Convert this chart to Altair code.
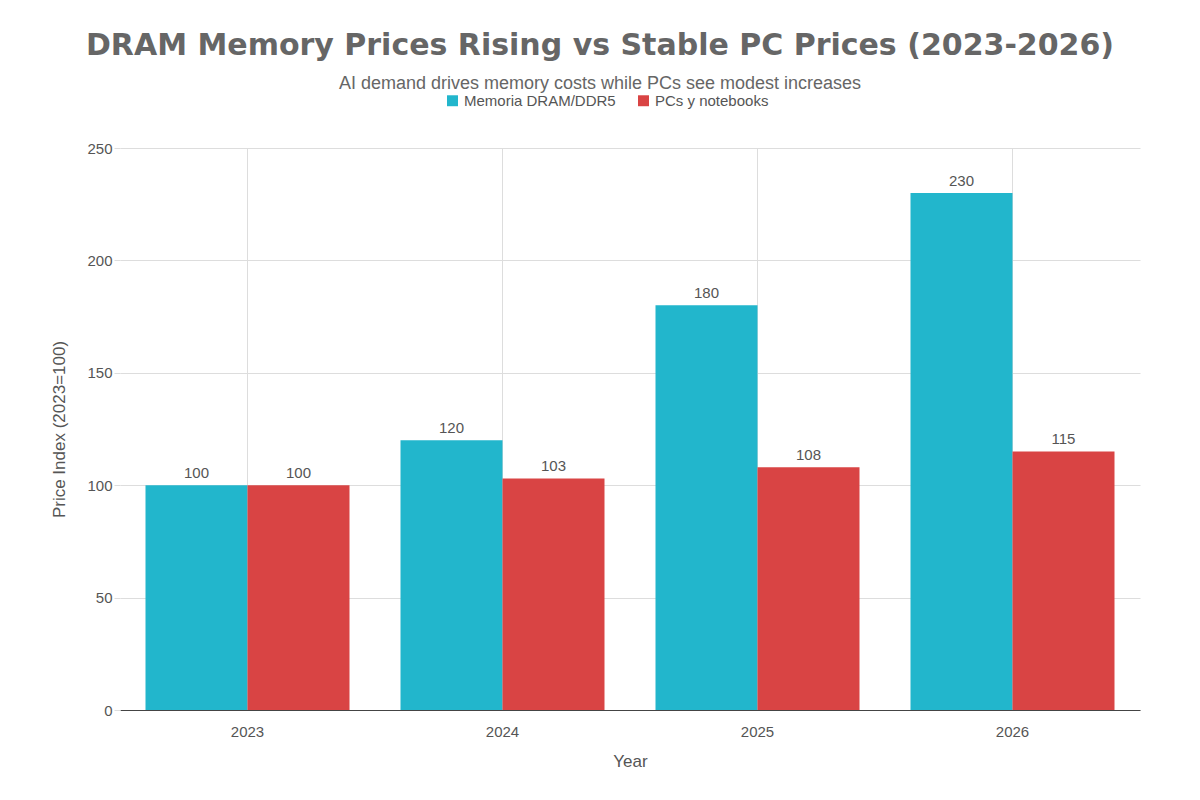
import altair as alt
import pandas as pd

years = ["2023", "2024", "2025", "2026"]
dram = [100, 120, 180, 230]
pcs = [100, 103, 108, 115]
series = ["Memoria DRAM/DDR5", "PCs y notebooks"]

rows = []
for i, y in enumerate(years):
    rows.append({"Year": y, "Serie": series[0], "v": dram[i]})
    rows.append({"Year": y, "Serie": series[1], "v": pcs[i]})
df = pd.DataFrame(rows)

F = "Liberation Sans"
base = alt.Chart(df).encode(
    x=alt.X("Year:N", title="Year", sort=years,
            scale=alt.Scale(paddingInner=0.2, paddingOuter=0.1),
            axis=alt.Axis(labelAngle=0, grid=True, gridColor="#dddddd", domainColor="#444",
                          ticks=False, labelPadding=14, titlePadding=14, labelFontSize=15,
                          titleFontSize=17, titleFontWeight="normal", labelColor="#555",
                          titleColor="#555", bandPosition=0.5)),
    xOffset=alt.XOffset("Serie:N", sort=series),
)
bars = base.mark_bar().encode(
    y=alt.Y("v:Q", title="Price Index (2023=100)", scale=alt.Scale(domain=[0, 250], nice=False),
            axis=alt.Axis(values=[0, 50, 100, 150, 200, 250], gridColor="#dddddd", domain=False,
                          tickColor="#dddddd", tickSize=6, labelFontSize=15, titleFontSize=17,
                          titleFontWeight="normal", labelColor="#555", titleColor="#555",
                          titlePadding=18)),
    color=alt.Color("Serie:N", sort=series, title=None,
                    scale=alt.Scale(domain=series, range=["#22b6cc", "#d94444"]),
                    legend=alt.Legend(orient="none", legendX=325, legendY=-55, direction="horizontal",
                                      symbolType="square", symbolSize=120, labelFontSize=15,
                                      labelColor="#555", columnPadding=20)),
)
labels = base.mark_text(dy=-12, fontSize=15, color="#555", font=F).encode(
    y="v:Q", text="v:Q")

chart = (bars + labels).properties(
    width=1020, height=562,
    autosize=alt.AutoSizeParams(type="none"),
    padding={"left": 112, "top": 140, "right": 52, "bottom": 90},
    title=alt.TitleParams("DRAM Memory Prices Rising vs Stable PC Prices (2023-2026)",
                          subtitle="AI demand drives memory costs while PCs see modest increases",
                          fontSize=30, fontWeight="bold", color="#666", font="DejaVu Sans",
                          subtitleFontSize=18, subtitleColor="#666", subtitleFont=F,
                          subtitlePadding=14, offset=0, dx=-30, anchor="middle"),
).configure(font=F).configure_view(strokeWidth=0, stroke="transparent")

chart.save("out.html", embed_options={"renderer": "svg", "actions": False})
